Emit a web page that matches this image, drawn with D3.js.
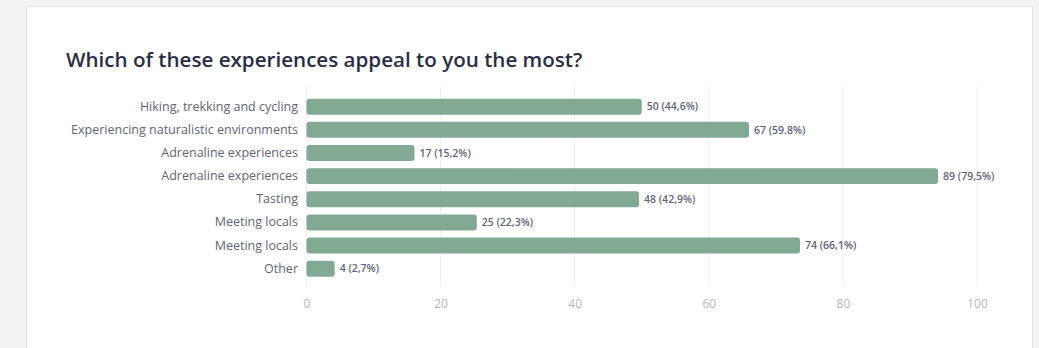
<!DOCTYPE html>
<html>
<head>
<meta charset="utf-8">
<script src="https://cdn.jsdelivr.net/npm/d3@7"></script>
<style>
  html, body { margin: 0; padding: 0; background: #f3f3f5; }
  svg { display: block; }
</style>
</head>
<body>
<svg id="chart" width="1039" height="348"></svg>
<script>
const categories = [
  "Hiking, trekking and cycling",
  "Experiencing naturalistic environments",
  "Adrenaline experiences",
  "Adrenaline experiences",
  "Tasting",
  "Meeting locals",
  "Meeting locals",
  "Other"
];
const values = [50, 66, 16.1, 94.2, 49.6, 25.4, 73.6, 4.2];
const valueLabels = [
  "50 (44,6%)", "67 (59.8%)", "17 (15,2%)", "89 (79,5%)",
  "48 (42,9%)", "25 (22,3%)", "74 (66,1%)", "4 (2,7%)"
];
const xTicks = [0, 20, 40, 60, 80, 100];
const title = "Which of these experiences appeal to you the most?";

const font = "'Open Sans', 'Noto Sans', sans-serif";
const svg = d3.select("#chart");

// card
svg.append("rect")
  .attr("x", 26.5).attr("y", 6.5).attr("width", 1006).attr("height", 360)
  .attr("fill", "#ffffff").attr("stroke", "#e2e2e8").attr("stroke-width", 1);

svg.append("text")
  .attr("x", 66).attr("y", 67)
  .attr("font-family", font).attr("font-size", 20.6).attr("font-weight", 600)
  .attr("fill", "#2a2e45")
  .text(title);

const x = d3.scaleLinear().domain([0, 100]).range([306.5, 977]);
const y = d3.scaleBand().domain(d3.range(categories.length))
  .range([95.1, 280.3]).paddingInner(0.31).paddingOuter(0.155);

// grid lines
svg.append("g").selectAll("line").data(xTicks).join("line")
  .attr("x1", d => x(d)).attr("x2", d => x(d))
  .attr("y1", 87).attr("y2", 287)
  .attr("stroke", "#ececf3").attr("stroke-width", 1);

// x axis
const xAxis = d3.axisBottom(x).tickValues(xTicks).tickSize(0).tickPadding(0);
const gx = svg.append("g").attr("transform", "translate(0,308)").call(xAxis);
gx.select(".domain").remove();
gx.selectAll("text")
  .attr("font-family", font).attr("font-size", 12)
  .attr("fill", "#b3b5c6").attr("dy", 0);

// y axis labels
const yAxis = d3.axisLeft(y).tickFormat(i => categories[i]).tickSize(0).tickPadding(0);
const gy = svg.append("g").attr("transform", "translate(298,0)").call(yAxis);
gy.select(".domain").remove();
gy.selectAll("text")
  .attr("font-family", font).attr("font-size", 12.5)
  .attr("fill", "#5f6478");

// bars
svg.append("g").selectAll("rect").data(values).join("rect")
  .attr("x", x(0)).attr("y", (d, i) => y(i))
  .attr("width", d => x(d) - x(0)).attr("height", y.bandwidth())
  .attr("rx", 3).attr("fill", "#82a993");

// value labels
svg.append("g").selectAll("text").data(values).join("text")
  .attr("x", d => x(d) + 5).attr("y", (d, i) => y(i) + y.bandwidth() / 2)
  .attr("dy", "0.35em")
  .attr("font-family", font).attr("font-size", 10.5).attr("font-weight", 600)
  .attr("fill", "#5f6478")
  .text((d, i) => valueLabels[i]);
</script>
</body>
</html>
